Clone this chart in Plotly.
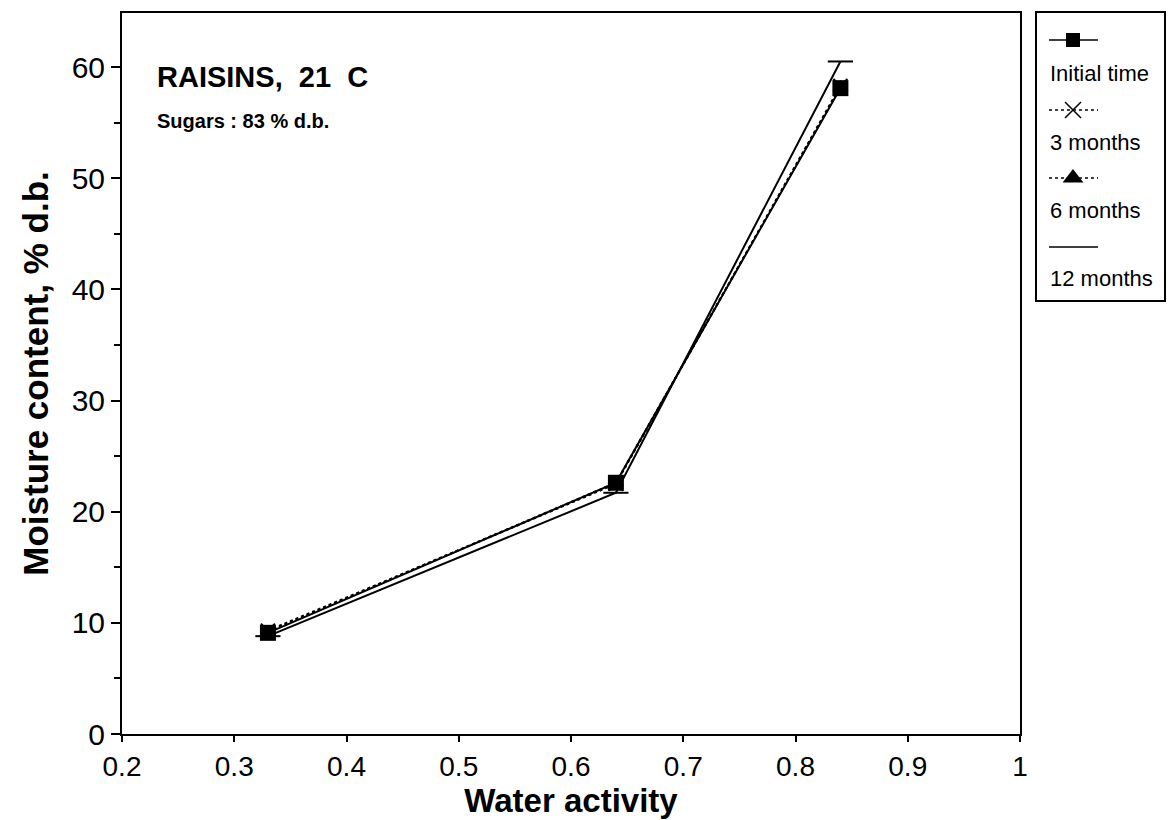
import plotly.graph_objects as go

# ---- data ----
water_activity = [0.33, 0.64, 0.84]
initial_time = [9.1, 22.6, 58.1]
months_3 = [9.3, 22.5, 58.3]
months_6 = [9.2, 22.6, 58.2]
months_12 = [8.8, 21.7, 60.5]
x_tick_vals = [0.2, 0.3, 0.4, 0.5, 0.6, 0.7, 0.8, 0.9, 1.0]
x_tick_text = ["0.2", "0.3", "0.4", "0.5", "0.6", "0.7", "0.8", "0.9", "1"]
y_tick_vals = [0, 10, 20, 30, 40, 50, 60]
series_names = ["Initial time", "3 months", "6 months", "12 months"]

FONT = "Liberation Sans, Arial, sans-serif"
BLACK = "#000000"

fig = go.Figure()

# main series (drawn bottom to top so squares sit on top)
fig.add_trace(go.Scatter(x=water_activity, y=months_12, mode="lines+markers",
                         line=dict(color=BLACK, width=2),
                         marker=dict(symbol="line-ew", size=18, line=dict(color=BLACK, width=2)),
                         name=series_names[3], showlegend=False))
fig.add_trace(go.Scatter(x=water_activity, y=months_6, mode="lines+markers",
                         line=dict(color=BLACK, width=2, dash="dot"),
                         marker=dict(symbol="triangle-up", size=14, color=BLACK),
                         name=series_names[2], showlegend=False))
fig.add_trace(go.Scatter(x=water_activity, y=months_3, mode="lines+markers",
                         line=dict(color=BLACK, width=2, dash="dot"),
                         marker=dict(symbol="x-thin", size=14, line=dict(color=BLACK, width=2)),
                         name=series_names[1], showlegend=False))
fig.add_trace(go.Scatter(x=water_activity, y=initial_time, mode="lines+markers",
                         line=dict(color=BLACK, width=2),
                         marker=dict(symbol="square", size=16, color=BLACK),
                         name=series_names[0], showlegend=False))

# ---- hand-drawn legend on its own axes (pixel-like coordinates) ----
leg_sym_y = [40, 110, 178, 247]
leg_txt_y = [73, 142, 210, 278]
leg_styles = [
    dict(dash="solid", marker=dict(symbol="square", size=14, color=BLACK), show_marker=True),
    dict(dash="dot", marker=dict(symbol="x-thin", size=16, line=dict(color=BLACK, width=1.5)), show_marker=True),
    dict(dash="dot", marker=dict(symbol="triangle-up", size=18, color=BLACK), show_marker=True),
    dict(dash="solid", marker=None, show_marker=False),
]
for name, sy, ty, st in zip(series_names, leg_sym_y, leg_txt_y, leg_styles):
    fig.add_trace(go.Scatter(x=[1049, 1098], y=[sy, sy], mode="lines",
                             line=dict(color=BLACK, width=1.6, dash=st["dash"]),
                             xaxis="x2", yaxis="y2", showlegend=False, hoverinfo="skip"))
    if st["show_marker"]:
        fig.add_trace(go.Scatter(x=[1073], y=[sy], mode="markers", marker=st["marker"],
                                 xaxis="x2", yaxis="y2", showlegend=False, hoverinfo="skip"))
    fig.add_annotation(x=1048, y=ty, xref="x2", yref="y2", text=name, showarrow=False,
                       xanchor="left", yanchor="middle",
                       font=dict(family=FONT, size=22, color=BLACK))

# in-plot labels
fig.add_annotation(x=0.229, y=59.1, xref="x", yref="y", text="<b>RAISINS,  21  C</b>",
                   showarrow=False, xanchor="left", yanchor="middle",
                   font=dict(family=FONT, size=29, color=BLACK))
fig.add_annotation(x=0.229, y=55.1, xref="x", yref="y", text="<b>Sugars : 83 % d.b.</b>",
                   showarrow=False, xanchor="left", yanchor="middle",
                   font=dict(family=FONT, size=20, color=BLACK))

fig.update_layout(
    width=1172, height=820,
    margin=dict(l=122, r=0, t=13, b=86),
    paper_bgcolor="white", plot_bgcolor="white",
    font=dict(family=FONT, color=BLACK),
    xaxis=dict(domain=[0, 0.8618], range=[0.2, 1.0],
               tickvals=x_tick_vals, ticktext=x_tick_text,
               ticks="outside", ticklen=6, tickwidth=2, tickcolor=BLACK,
               showline=True, linecolor=BLACK, linewidth=2, mirror=True,
               showgrid=False, zeroline=False,
               tickfont=dict(family=FONT, size=28, color=BLACK),
               title=dict(text="<b>Water activity</b>", standoff=4,
                          font=dict(family=FONT, size=33, color=BLACK))),
    yaxis=dict(range=[0, 64.86], tickvals=y_tick_vals,
               ticks="outside", ticklen=9, tickwidth=2, tickcolor=BLACK,
               minor=dict(dtick=5, ticks="outside", ticklen=6, tickwidth=2, tickcolor=BLACK, showgrid=False),
               showline=True, linecolor=BLACK, linewidth=2, mirror=True,
               showgrid=False, zeroline=False,
               tickfont=dict(family=FONT, size=30, color=BLACK),
               title=dict(text="<b>Moisture content, % d.b.</b>", standoff=12,
                          font=dict(family=FONT, size=35, color=BLACK))),
    xaxis2=dict(domain=[0.8781, 1.0], range=[1037, 1164], anchor="y2",
                showline=True, linecolor=BLACK, linewidth=2, mirror=True,
                showticklabels=False, ticks="", showgrid=False, zeroline=False, fixedrange=True),
    yaxis2=dict(domain=[0.6019, 1.0], range=[300, 13], anchor="x2",
                showline=True, linecolor=BLACK, linewidth=2, mirror=True,
                showticklabels=False, ticks="", showgrid=False, zeroline=False, fixedrange=True),
)

fig.write_html("out.html")
